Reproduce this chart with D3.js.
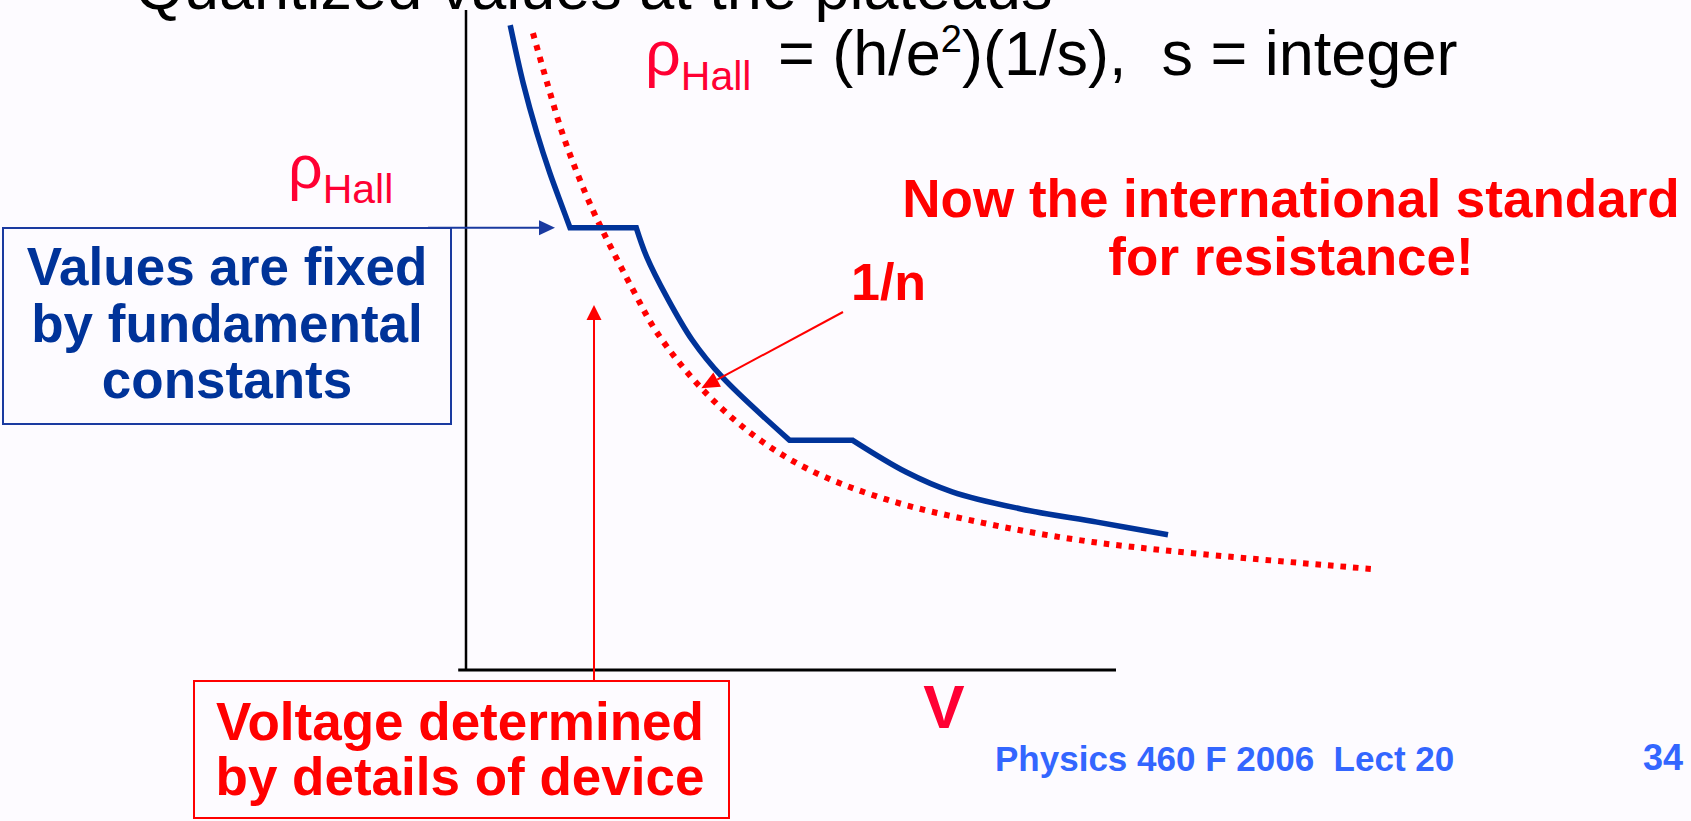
<!DOCTYPE html>
<html>
<head>
<meta charset="utf-8">
<script src="https://cdn.jsdelivr.net/npm/d3@7"></script>
<style>
  html, body { margin: 0; padding: 0; background: #fdfbff; }
  svg { display: block; }
  text { font-family: "Liberation Sans", Arial, sans-serif; white-space: pre; }
</style>
</head>
<body>
<svg id="chart" width="1691" height="821"></svg>
<script>
// Measured Hall resistivity vs. voltage (arbitrary units), with two plateaus
const measuredV   = [0.68, 0.88, 1.09, 1.29, 1.48, 1.60, 2.62, 2.78, 3.09, 3.48, 3.94, 4.98, 5.95, 6.77, 7.48, 8.54, 9.71, 10.80];
const measuredRho = [9.77, 8.89, 8.14, 7.53, 7.02, 6.70, 6.70, 6.26, 5.65, 5.00, 4.44, 3.48, 3.48, 3.00, 2.70, 2.44, 2.24, 2.05];
// indices where a flat plateau segment begins (runs to the next point)
const plateauStarts = [5, 11];

// Ideal 1/n trend (dotted)
const idealV   = [1.03, 1.25, 1.48, 1.71, 1.95, 2.17, 2.57, 2.94, 3.62, 4.42, 5.29, 6.48, 7.95, 9.42, 11.18, 13.94];
const idealRho = [9.65, 8.89, 8.14, 7.53, 6.97, 6.52, 5.76, 5.11, 4.27, 3.56, 3.03, 2.58, 2.23, 1.97, 1.77, 1.53];

// Text content
const titleText = "Quantized values at the plateaus";
const leftBoxLines = ["Values are fixed", "by fundamental", "constants"];
const bottomBoxLines = ["Voltage determined", "by details of device"];
const standardLines = ["Now the international standard", "for resistance!"];
const trendLabel = "1/n";
const xAxisLabel = "V";
const footerText = "Physics 460 F 2006  Lect 20";
const slideNumber = "34";

const svg = d3.select("#chart");
const W = 1691, H = 821;
svg.append("rect").attr("width", W).attr("height", H).attr("fill", "#fdfbff");

const x = d3.scaleLinear().domain([0, 10]).range([466, 1116]);
const y = d3.scaleLinear().domain([0, 10]).range([670, 10]);

const RED = "#ff0000", PINK_RED = "#ff0033", NAVY = "#003399", FOOT_BLUE = "#3366ff";

// Title (runs off the top edge of the slide)
svg.append("text").attr("x", 135).attr("y", 9)
  .attr("font-size", 63).attr("fill", "#000").text(titleText);

// Axes
svg.append("line")
  .attr("x1", x(0)).attr("x2", x(0)).attr("y1", y(10)).attr("y2", y(0))
  .attr("stroke", "#000").attr("stroke-width", 2.5);
svg.append("line")
  .attr("x1", x(-0.12)).attr("x2", x(10)).attr("y1", y(0)).attr("y2", y(0))
  .attr("stroke", "#000").attr("stroke-width", 3);

// Ideal dotted curve
const idealPts = idealV.map((v, i) => [x(v), y(idealRho[i])]);
svg.append("path")
  .attr("d", d3.line().curve(d3.curveCatmullRom.alpha(0.5))(idealPts))
  .attr("fill", "none").attr("stroke", RED).attr("stroke-width", 6)
  .attr("stroke-dasharray", "5.5 7");

// Measured curve: smooth falling segments joined by straight plateaus
const measPts = measuredV.map((v, i) => [x(v), y(measuredRho[i])]);
const breaks = [0];
plateauStarts.forEach(s => { breaks.push(s); breaks.push(s + 1); });
breaks.push(measPts.length - 1);
const p = d3.path();
let started = false;
const ctx = {
  moveTo(a, b) { if (started) p.lineTo(a, b); else p.moveTo(a, b); started = true; },
  lineTo(a, b) { p.lineTo(a, b); },
  bezierCurveTo(a, b, c, d, e, f) { p.bezierCurveTo(a, b, c, d, e, f); },
  closePath() {}
};
for (let k = 0; k < breaks.length - 1; k++) {
  const seg = measPts.slice(breaks[k], breaks[k + 1] + 1);
  const flat = plateauStarts.includes(breaks[k]);
  d3.line().curve(flat ? d3.curveLinear : d3.curveCatmullRom.alpha(0.5)).context(ctx)(seg);
}
svg.append("path").attr("d", p.toString())
  .attr("fill", "none").attr("stroke", NAVY).attr("stroke-width", 5.5)
  .attr("stroke-linejoin", "miter");

// Arrow helper
function arrow(x1, y1, x2, y2, color, width, headLen, headHalf) {
  const ang = Math.atan2(y2 - y1, x2 - x1);
  const bx = x2 - headLen * Math.cos(ang), by = y2 - headLen * Math.sin(ang);
  svg.append("line").attr("x1", x1).attr("y1", y1).attr("x2", bx).attr("y2", by)
    .attr("stroke", color).attr("stroke-width", width);
  const nx = -Math.sin(ang), ny = Math.cos(ang);
  svg.append("path")
    .attr("d", `M${x2},${y2}L${bx + nx * headHalf},${by + ny * headHalf}L${bx - nx * headHalf},${by - ny * headHalf}Z`)
    .attr("fill", color);
}

// Equation at top
const eq = svg.append("text").attr("x", 645).attr("y", 75).attr("font-size", 63).attr("fill", "#000");
eq.append("tspan").attr("fill", PINK_RED).text("\u03c1");
eq.append("tspan").attr("fill", PINK_RED).attr("font-size", 41).attr("dy", 15).text("Hall");
eq.append("tspan").attr("dy", -15).attr("dx", 9).text(" = (h/e");
eq.append("tspan").attr("font-size", 38).attr("dy", -23).text("2");
eq.append("tspan").attr("dy", 23).text(")(1/s),  s = integer");

// Left ρHall label
const lbl = svg.append("text").attr("x", 288).attr("y", 188).attr("font-size", 61).attr("fill", PINK_RED);
lbl.append("tspan").text("\u03c1");
lbl.append("tspan").attr("font-size", 41).attr("dy", 15).text("Hall");

// Left boxed note with arrow to the first plateau
svg.append("rect").attr("x", 3).attr("y", 228).attr("width", 448).attr("height", 196)
  .attr("fill", "none").attr("stroke", "#1a3aa0").attr("stroke-width", 2);
arrow(428, y(measuredRho[5]), x(measuredV[5]) - 15, y(measuredRho[5]), "#1a3aa0", 2, 16, 7.5);
leftBoxLines.forEach((t, i) => {
  svg.append("text").attr("x", 227).attr("y", 285 + i * 56.5).attr("text-anchor", "middle")
    .attr("font-size", 53).attr("font-weight", "bold").attr("fill", NAVY).text(t);
});

// Bottom boxed note with vertical arrow
svg.append("rect").attr("x", 194).attr("y", 681).attr("width", 535).attr("height", 137)
  .attr("fill", "none").attr("stroke", RED).attr("stroke-width", 2);
arrow(594, 681, 594, 305, RED, 2, 15, 7.5);
bottomBoxLines.forEach((t, i) => {
  svg.append("text").attr("x", 460).attr("y", 740 + i * 55).attr("text-anchor", "middle")
    .attr("font-size", 53).attr("font-weight", "bold").attr("fill", RED).text(t);
});

// 1/n label with arrow onto the dotted curve
svg.append("text").attr("x", 851).attr("y", 300).attr("font-size", 52)
  .attr("font-weight", "bold").attr("fill", RED).text(trendLabel);
arrow(843, 312, x(idealV[8]), y(idealRho[8]), RED, 2, 18, 8);

// International standard note
standardLines.forEach((t, i) => {
  svg.append("text").attr("x", 1291).attr("y", 217 + i * 58).attr("text-anchor", "middle")
    .attr("font-size", 53).attr("font-weight", "bold").attr("fill", RED).text(t);
});

// Axis label
svg.append("text").attr("x", 944).attr("y", 728).attr("text-anchor", "middle")
  .attr("font-size", 62).attr("font-weight", "bold").attr("fill", PINK_RED).text(xAxisLabel);

// Footer
svg.append("text").attr("x", 995).attr("y", 771).attr("font-size", 35)
  .attr("font-weight", "bold").attr("fill", FOOT_BLUE).text(footerText);
svg.append("text").attr("x", 1683).attr("y", 770).attr("text-anchor", "end").attr("font-size", 36)
  .attr("font-weight", "bold").attr("fill", FOOT_BLUE).text(slideNumber);
</script>
</body>
</html>
